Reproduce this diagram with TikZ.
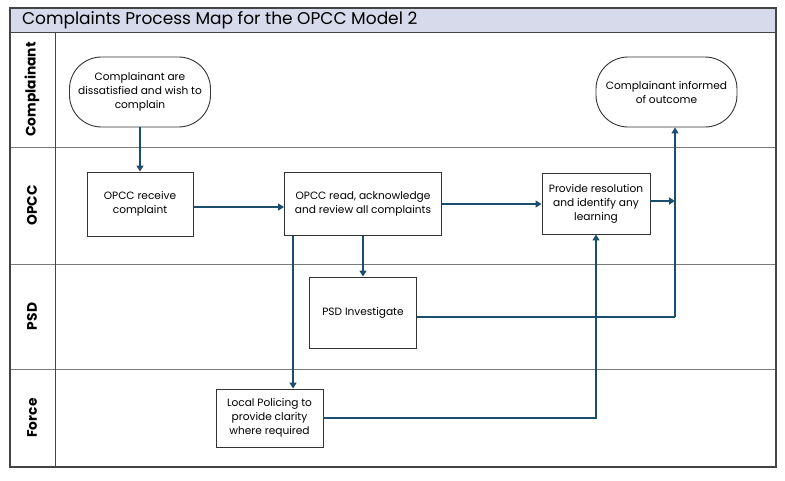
\documentclass[tikz,border=0pt]{standalone}
\usepackage{fontspec}
\setmainfont{Poppins}
\usetikzlibrary{arrows.meta}
\definecolor{titlefill}{HTML}{D6DAEB}
\definecolor{flow}{HTML}{1B4D6E}
\definecolor{frame}{HTML}{444444}
\definecolor{lane}{HTML}{7A7A7A}
\tikzset{
  procbox/.style={draw=black!80, line width=0.9pt, fill=white, align=center, font=\fontsize{10.6}{14}\selectfont, inner sep=2pt},
  termbox/.style={procbox, rounded corners=32pt},
  lanelabel/.style={rotate=90, font=\bfseries\fontsize{13.8}{15}\selectfont},
  arr/.style={draw=flow, line width=2.1pt, -{Triangle[length=6pt,width=7pt]}},
  flowline/.style={draw=flow, line width=2.1pt},
}
\begin{document}
\begin{tikzpicture}[x=1pt,y=-1pt]
\useasboundingbox (0,0) rectangle (785,480);
% title band
\fill[titlefill] (10,8) rectangle (776,32);
\node[anchor=west, font=\fontsize{17}{18}\selectfont] (title) at (18.5,20.5) {Complaints Process Map for the OPCC Model 2};
% lanes
\draw[lane, line width=0.9pt] (10,147) -- (776,147);
\draw[lane, line width=0.9pt] (10,264) -- (776,264);
\draw[lane, line width=0.9pt] (10,369) -- (776,369);
\draw[frame, line width=1pt] (10,32) -- (776,32);
\draw[frame, line width=1pt] (55,32) -- (55,467);
\draw[frame, line width=1.2pt] (10,8) rectangle (776,467);
% lane labels
\node[lanelabel] (l1) at (32,89.5) {Complainant};
\node[lanelabel] (l2) at (32,205.5) {OPCC};
\node[lanelabel] (l3) at (32,316.5) {PSD};
\node[lanelabel] (l4) at (32,418) {Force};
% nodes
\node[termbox, minimum width=141pt, minimum height=70pt] (start) at (140,92) {Complainant are\\dissatisfied and wish to\\complain};
\node[termbox, minimum width=141pt, minimum height=70pt] (inf) at (666.5,92) {Complainant informed\\of outcome};
\node[procbox, minimum width=106pt, minimum height=64pt] (recv) at (140,204) {OPCC receive\\complaint};
\node[procbox, minimum width=157pt, minimum height=63pt] (read) at (363,204) {OPCC read, acknowledge\\and review all complaints};
\node[procbox, minimum width=108pt, minimum height=61pt] (res) at (596,203.5) {Provide resolution\\and identify any\\learning};
\node[procbox, minimum width=107pt, minimum height=71pt] (psd) at (363,312.5) {PSD Investigate};
\node[procbox, minimum width=107pt, minimum height=58pt] (local) at (269.5,418) {Local Policing to\\provide clarity\\where required};
% junction points
\coordinate (j1) at (675,317);
% connectors
\draw[arr] (start) -- (recv);
\draw[arr] ([yshift=-3pt]recv.east) -- ([yshift=-3pt]recv.east -| read.west);
\draw[arr] (read.east) -- (read.east -| res.west);
\draw[arr] (read.south) -- (psd.north);
\draw[arr] ([xshift=9pt]read.south west) -- ([xshift=9pt]read.south west |- local.north);
\draw[flowline] (psd.east |- j1) -- (j1);
\draw[arr] (j1) -- (j1 |- inf.south);
\draw[arr] (local.east) -| (res.south);
\draw[arr] ([yshift=2.5pt]res.east) -- ([yshift=2.5pt]res.east -| j1);
\end{tikzpicture}
\end{document}
